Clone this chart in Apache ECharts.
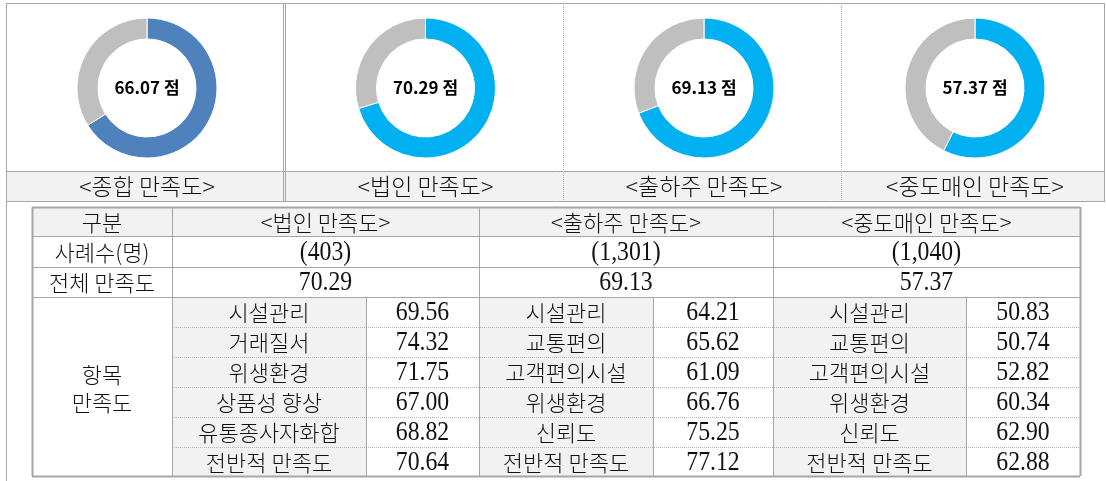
<!DOCTYPE html>
<html>
<head>
<meta charset="utf-8">
<script src="https://cdn.jsdelivr.net/npm/echarts@6/dist/echarts.min.js"></script>
<style>
html, body { margin: 0; padding: 0; background: #fff; }
#chart { width: 1106px; height: 481px; }
</style>
</head>
<body>
<div id="chart"></div>
<script>
// data
var panelTitles = ['<종합 만족도>', '<법인 만족도>', '<출하주 만족도>', '<중도매인 만족도>'];
var panelScores = [66.07, 70.29, 69.13, 57.37];
var groupNames = ['<법인 만족도>', '<출하주 만족도>', '<중도매인 만족도>'];
var sampleSizes = ['(403)', '(1,301)', '(1,040)'];
var totalScores = [70.29, 69.13, 57.37];
var itemNames = [
	['시설관리', '거래질서', '위생환경', '상품성 향상', '유통종사자화합', '전반적 만족도'],
	['시설관리', '교통편의', '고객편의시설', '위생환경', '신뢰도', '전반적 만족도'],
	['시설관리', '교통편의', '고객편의시설', '위생환경', '신뢰도', '전반적 만족도']
];
var itemScores = [
	[69.56, 74.32, 71.75, 67.00, 68.82, 70.64],
	[64.21, 65.62, 61.09, 66.76, 75.25, 77.12],
	[50.83, 50.74, 52.82, 60.34, 62.90, 62.88]
];

// look
var ringColors = ['#4f81bd', '#00b0f0', '#00b0f0', '#00b0f0'];
var restColor = '#bfbfbf';
var lineColor = '#a6a6a6';
var cellGray = '#f2f2f2';
var krFont = '"Noto Sans CJK KR", sans-serif';
var numFont = '"Liberation Serif", "Noto Sans CJK KR", serif';

// layout
var panelEdges = [6, 284, 563, 841, 1105];
var colX = [32, 172, 366, 479, 653, 773, 966, 1080];
var rowY = [207, 236, 267, 297, 327, 357, 387, 417, 447, 476];

var chart = echarts.init(document.getElementById('chart'));

var series = panelScores.map(function (score, i) {
	var cx = (panelEdges[i] + panelEdges[i + 1]) / 2 + 2;
	return {
		type: 'pie',
		silent: true,
		center: [cx, 88],
		radius: [49, 70],
		startAngle: 90,
		clockwise: true,
		labelLine: { show: false },
		itemStyle: { borderColor: '#fff', borderWidth: 1 },
		data: [
			{
				value: score,
				itemStyle: { color: ringColors[i] },
				label: {
					show: true,
					position: 'center',
					formatter: score.toFixed(2) + ' 점',
					fontSize: 17,
					fontWeight: 'bold',
					fontFamily: krFont,
					color: '#000'
				}
			},
			{
				value: +(100 - score).toFixed(2),
				itemStyle: { color: restColor },
				label: { show: false }
			}
		]
	};
});

var g = [];
function rect(x, y, w, h, fill) {
	g.push({ type: 'rect', z: 1, shape: { x: x, y: y, width: w, height: h }, style: { fill: fill } });
}
function line(x1, y1, x2, y2, dashed, width, color) {
	g.push({
		type: 'line', z: 3,
		shape: { x1: x1, y1: y1, x2: x2, y2: y2 },
		style: { stroke: color || lineColor, lineWidth: width || 1, lineDash: dashed ? [1, 1] : null }
	});
}
function text(cx, cy, str, font, size, sx) {
	g.push({
		type: 'text', z: 4, x: cx, y: cy, scaleX: sx || 1,
		style: {
			text: str, fill: '#111', fontSize: size || 22, fontFamily: font, fontWeight: 300,
			align: 'center', verticalAlign: 'middle', lineHeight: 28
		}
	});
}

// top panels frame
rect(panelEdges[0], 171, panelEdges[4] - panelEdges[0], 30, cellGray);
line(6, 3.5, 1105, 3.5);
line(6, 171.5, 1105, 171.5);
line(6, 201.5, 1105, 201.5);
line(6.5, 3, 6.5, 481);
line(1104.5, 3, 1104.5, 201);
line(283.5, 3, 283.5, 201);
line(285.5, 3, 285.5, 201);
line(563.5, 3, 563.5, 201, true, 1, '#b0b0b0');
line(841.5, 3, 841.5, 201, true, 1, '#b0b0b0');
panelTitles.forEach(function (t, i) {
	text((panelEdges[i] + panelEdges[i + 1]) / 2 + 2, 186, t, krFont, 23);
});

// table backgrounds
rect(colX[0], rowY[0], colX[7] - colX[0], rowY[1] - rowY[0], cellGray);
for (var b = 0; b < 3; b++) {
	rect(colX[1 + b * 2], rowY[3], colX[2 + b * 2] - colX[1 + b * 2], rowY[9] - rowY[3], cellGray);
}

// table lines
line(colX[0], rowY[0] + 0.5, colX[7], rowY[0] + 0.5, false, 2);
line(colX[0], rowY[9] + 0.5, colX[7], rowY[9] + 0.5, false, 2);
line(colX[0] + 0.5, rowY[0], colX[0] + 0.5, rowY[9], false, 2);
line(colX[7] + 0.5, rowY[0], colX[7] + 0.5, rowY[9], false, 2);
[1, 2, 3].forEach(function (r) { line(colX[0], rowY[r] + 0.5, colX[7], rowY[r] + 0.5); });
[4, 5, 6, 7, 8].forEach(function (r) { line(colX[1], rowY[r] + 0.5, colX[7], rowY[r] + 0.5, true, 1, '#b8b8b8'); });
[1, 3, 5].forEach(function (c) { line(colX[c] + 0.5, rowY[0], colX[c] + 0.5, rowY[9]); });
[2, 4, 6].forEach(function (c) { line(colX[c] + 0.5, rowY[3], colX[c] + 0.5, rowY[9]); });

// table texts
function midY(r) { return (rowY[r] + rowY[r + 1]) / 2 + 1; }
text((colX[0] + colX[1]) / 2, midY(0), '구분', krFont);
text((colX[0] + colX[1]) / 2, midY(1), '사례수(명)', krFont);
text((colX[0] + colX[1]) / 2, midY(2), '전체 만족도', krFont);
text((colX[0] + colX[1]) / 2, (rowY[3] + rowY[9]) / 2 + 2, '항목\n만족도', krFont);
for (var k = 0; k < 3; k++) {
	var bx = (colX[1 + k * 2] + colX[3 + k * 2]) / 2;
	text(bx, midY(0), groupNames[k], krFont);
	text(bx, midY(1), sampleSizes[k], numFont, 27, 0.88);
	text(bx, midY(2), totalScores[k].toFixed(2), numFont, 27, 0.88);
	for (var r = 0; r < 6; r++) {
		text((colX[1 + k * 2] + colX[2 + k * 2]) / 2, midY(3 + r), itemNames[k][r], krFont);
		text((colX[2 + k * 2] + colX[3 + k * 2]) / 2, midY(3 + r), itemScores[k][r].toFixed(2), numFont, 27, 0.88);
	}
}

chart.setOption({
	animation: false,
	series: series,
	graphic: g
});
</script>
</body>
</html>
